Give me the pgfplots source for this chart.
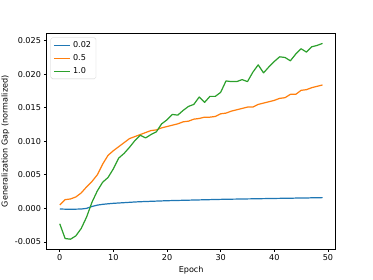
\documentclass[border=0pt]{standalone}
\usepackage{pgfplots}
\pgfplotsset{compat=1.18}
\usepackage{fontspec}
\setmainfont{DejaVu Sans}
\definecolor{tabblue}{HTML}{1F77B4}
\definecolor{taborange}{HTML}{FF7F0E}
\definecolor{tabgreen}{HTML}{2CA02C}
\begin{document}
\begin{tikzpicture}
\begin{axis}[
  at={(0pt,0pt)}, anchor=south west,
  scale only axis, width=357.1pt, height=266.1pt,
  xmin=-2.45, xmax=51.45, ymin=-0.00606, ymax=0.02606,
  xtick={0,10,20,30,40,50},
  ytick={-0.005,0,0.005,0.01,0.015,0.02,0.025},
  scaled y ticks=false,
  yticklabel style={/pgf/number format/.cd, fixed, fixed zerofill, precision=3},
  /pgf/number format/assume math mode=true,
  tick align=outside, tick pos=left,
  major tick length=3.5pt,
  tick style={black, line width=0.8pt},
  axis line style={line width=0.8pt},
  ticklabel style={font=\fontsize{10}{12}\selectfont},
  label style={font=\fontsize{10}{12}\selectfont},
  xlabel={Epoch}, ylabel={Generalization Gap (normalized)},
  legend style={at={(0,1)}, anchor=north west, xshift=5pt, yshift=-5pt,
    font=\fontsize{10}{12}\selectfont, draw=black!20, rounded corners=2pt,
    inner xsep=3pt, inner ysep=3pt, row sep=3pt,
    nodes={inner xsep=3pt}},
  legend cell align=left,
  legend image code/.code={\draw[#1, line width=1.5pt] (0pt,0pt) -- (20pt,0pt);},
]
\addplot[tabblue, line width=1.5pt, line join=round] coordinates {
(0,-0.0001)(1,-0.00012)(2,-0.00012)(3,-0.00012)(4,-0.0001)(5,0.0000)(6,0.00028)(7,0.00048)(8,0.0006)(9,0.00068)
(10,0.00075)(11,0.0008)(12,0.00085)(13,0.0009)(14,0.00095)(15,0.00099)(16,0.00102)(17,0.00105)(18,0.00108)(19,0.00111)
(20,0.00114)(21,0.00116)(22,0.00118)(23,0.0012)(24,0.00122)(25,0.00124)(26,0.00126)(27,0.00128)(28,0.0013)(29,0.00132)
(30,0.00134)(31,0.00135)(32,0.00137)(33,0.00138)(34,0.0014)(35,0.00141)(36,0.00142)(37,0.00144)(38,0.00145)(39,0.00146)
(40,0.00148)(41,0.00149)(42,0.0015)(43,0.00151)(44,0.00153)(45,0.00154)(46,0.00155)(47,0.00157)(48,0.00158)(49,0.0016)
};
\addlegendentry{0.02}
\addplot[taborange, line width=1.5pt, line join=round] coordinates {
(0,0.0005)(1,0.0013)(2,0.0014)(3,0.0017)(4,0.0023)(5,0.0032)(6,0.0040)(7,0.0050)(8,0.0066)(9,0.0079)
(10,0.0086)(11,0.0092)(12,0.0098)(13,0.0104)(14,0.0107)(15,0.0110)(16,0.0113)(17,0.0116)(18,0.0117)(19,0.0120)
(20,0.0122)(21,0.0124)(22,0.0126)(23,0.0129)(24,0.0130)(25,0.0133)(26,0.0134)(27,0.0136)(28,0.0136)(29,0.0137)
(30,0.0141)(31,0.0142)(32,0.0145)(33,0.0147)(34,0.0149)(35,0.0151)(36,0.0151)(37,0.0155)(38,0.0157)(39,0.0159)
(40,0.0161)(41,0.0164)(42,0.0165)(43,0.0170)(44,0.0170)(45,0.0176)(46,0.0177)(47,0.0180)(48,0.0182)(49,0.0184)
};
\addlegendentry{0.5}
\addplot[tabgreen, line width=1.5pt, line join=round] coordinates {
(0,-0.0023)(1,-0.0045)(2,-0.0046)(3,-0.0041)(4,-0.0030)(5,-0.0013)(6,0.0009)(7,0.0026)(8,0.0039)(9,0.0046)
(10,0.0059)(11,0.0075)(12,0.0082)(13,0.0091)(14,0.0101)(15,0.0109)(16,0.0105)(17,0.0110)(18,0.0114)(19,0.0126)
(20,0.0132)(21,0.0140)(22,0.0139)(23,0.0146)(24,0.0152)(25,0.0155)(26,0.0166)(27,0.0158)(28,0.0167)(29,0.0167)
(30,0.0173)(31,0.0190)(32,0.0189)(33,0.0189)(34,0.0192)(35,0.0189)(36,0.0203)(37,0.0214)(38,0.0202)(39,0.0211)
(40,0.0219)(41,0.0226)(42,0.0225)(43,0.0220)(44,0.0230)(45,0.0238)(46,0.0233)(47,0.0241)(48,0.0243)(49,0.0246)
};
\addlegendentry{1.0}
\end{axis}
\pgfresetboundingbox
\path (-57.6pt,-38pt) rectangle (403.2pt,307.6pt);
\end{tikzpicture}
\end{document}
